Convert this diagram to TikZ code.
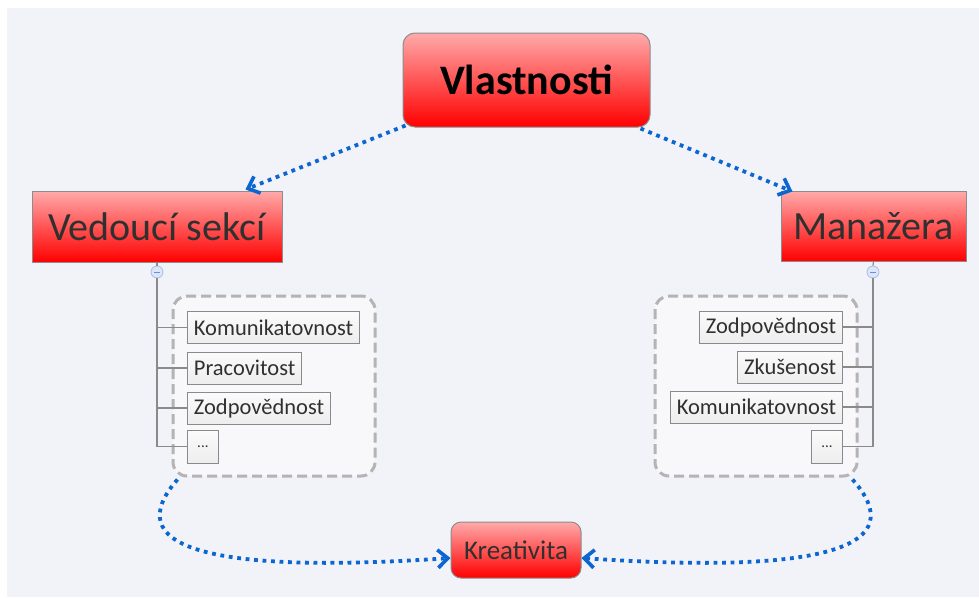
\documentclass[tikz,border=0pt]{standalone}
\usepackage{fontspec}
\setmainfont{Carlito}
\usetikzlibrary{arrows.meta}
\definecolor{bgcol}{HTML}{F2F3F9}
\definecolor{redtop}{HTML}{FFAAAA}
\definecolor{redbot}{HTML}{FF0000}
\definecolor{boxline}{HTML}{8C8C8C}
\definecolor{txtgray}{HTML}{303030}
\definecolor{itemline}{HTML}{8A8A8A}
\definecolor{itemtop}{HTML}{FBFBFB}
\definecolor{itembot}{HTML}{EDEDED}
\definecolor{grpline}{HTML}{B4B4B4}
\definecolor{grpfill}{HTML}{F8F8FA}
\definecolor{linkblue}{HTML}{0B66D0}
\definecolor{foldfill}{HTML}{DCE6F7}
\definecolor{foldline}{HTML}{A6BEEA}
\begin{document}
\begin{tikzpicture}[x=1pt,y=-1pt,
  topic/.style={draw=boxline, line width=1pt, top color=redtop, bottom color=redbot, text=txtgray, inner sep=0pt},
  item/.style={draw=itemline, line width=0.8pt, top color=itemtop, bottom color=itembot, text=txtgray, font=\fontsize{22.5}{24}\selectfont, inner xsep=6.5pt, inner ysep=0pt, minimum height=32pt},
  more/.style={item, minimum width=31pt, minimum height=33pt, font=\fontsize{15}{16}\selectfont},
  group/.style={draw=grpline, fill=grpfill, line width=3pt, dash pattern=on 10pt off 5pt, rounded corners=14pt, minimum width=202pt, minimum height=180pt},
  link/.style={draw=linkblue, line width=3.8pt, dash pattern=on 3.8pt off 4.7pt, -{Straight Barb[length=10pt,width=18pt,line width=3.6pt]}},
  branch/.style={draw=itemline, line width=1.2pt},
  fold/.style={circle, draw=foldline, fill=foldfill, line width=0.8pt, minimum size=12pt, inner sep=0pt}]

\fill[bgcol] (7,8) rectangle (979,597);
\useasboundingbox (0,0) rectangle (979,597);

\node[topic, rounded corners=12pt, minimum width=247pt, minimum height=94pt, text=black, font=\bfseries\fontsize{42}{46}\selectfont] (vlast) at (526.5,80) {Vlastnosti};
\node[topic, minimum width=250pt, minimum height=71pt, font=\fontsize{40}{44}\selectfont] (vedouci) at (157,226.5) {Vedoucí sekcí};
\node[topic, minimum width=185pt, minimum height=70pt, font=\fontsize{40}{44}\selectfont] (manazera) at (873.5,226) {Manažera};
\node[topic, rounded corners=10pt, minimum width=130pt, minimum height=56pt, font=\fontsize{27}{30}\selectfont] (kreativita) at (516,550) {Kreativita};

\node[group] (grpL) at (274,386) {};
\node[group] (grpR) at (756,386) {};

\node[item, anchor=west] (komL) at (187,327.5) {Komunikatovnost};
\node[item, anchor=west] (prac) at (187,368) {Pracovitost};
\node[item, anchor=west] (zodL) at (187,408) {Zodpovědnost};
\node[more, anchor=west] (moreL) at (187,446.5) {...};

\node[item, anchor=east] (zodR) at (843,327) {Zodpovědnost};
\node[item, anchor=east] (zkus) at (843,367) {Zkušenost};
\node[item, anchor=east] (komR) at (843,407) {Komunikatovnost};
\node[more, anchor=east] (moreR) at (843,446.5) {...};

\node[fold] (foldL) at (157,272) {};
\node[fold] (foldR) at (873,272) {};
\draw[branch] (vedouci.south) -- (foldL.north);
\draw[branch] (manazera.south) -- (foldR.north);
\draw[branch] (foldL.south) |- (moreL.west);
\draw[branch] (foldR.south) |- (moreR.east);
\foreach \n in {komL,prac,zodL} \draw[branch] (foldL.south |- \n.west) -- (\n.west);
\foreach \n in {zodR,zkus,komR} \draw[branch] (foldR.south |- \n.east) -- (\n.east);
\draw[foldline!70!blue, line width=1pt] ([xshift=-3pt]foldL.center) -- ([xshift=3pt]foldL.center);
\draw[foldline!70!blue, line width=1pt] ([xshift=-3pt]foldR.center) -- ([xshift=3pt]foldR.center);

\draw[link] ([xshift=3pt,yshift=2pt]vlast.south west) -- ([xshift=-37pt,yshift=1pt]vedouci.north east);
\draw[link] ([xshift=-10pt,yshift=-1pt]vlast.south east) -- ([xshift=12pt,yshift=-1pt]manazera.north west);
\draw[link] ([xshift=6pt,yshift=-2pt]grpL.south west) .. controls (120,545) and (200,575) .. ([yshift=-8pt]kreativita.west);
\draw[link] ([xshift=-6pt,yshift=-2pt]grpR.south east) .. controls (911,545) and (831,575) .. ([yshift=-8pt]kreativita.east);

\end{tikzpicture}
\end{document}
